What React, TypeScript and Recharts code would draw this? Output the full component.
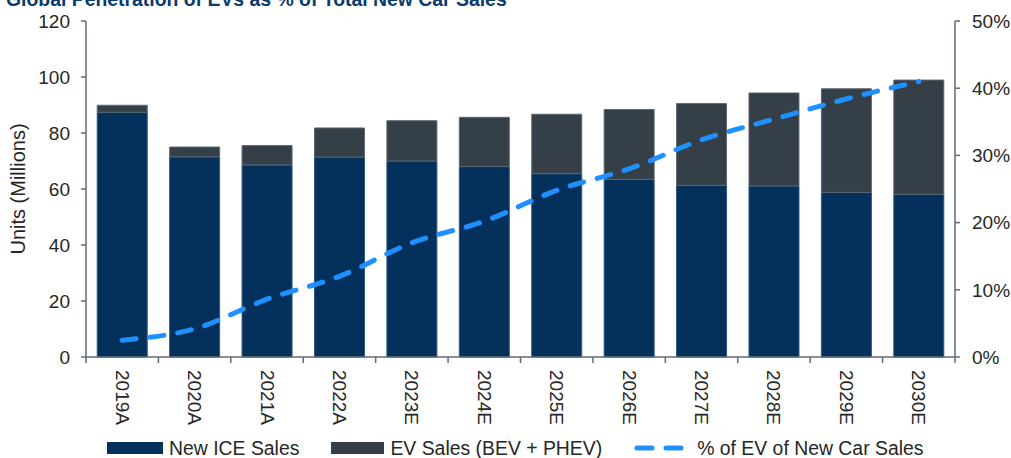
import React from "react";
import {
  ComposedChart,
  Bar,
  Line,
  XAxis,
  YAxis,
  Legend,
} from "recharts";

const YEARS = ["2019A", "2020A", "2021A", "2022A", "2023E", "2024E", "2025E", "2026E", "2027E", "2028E", "2029E", "2030E"];
const ICE_SALES = [87.4, 71.5, 68.6, 71.4, 70.0, 68.0, 65.5, 63.4, 61.3, 61.1, 58.8, 58.1];
const EV_SALES = [2.5, 3.5, 6.9, 10.4, 14.4, 17.6, 21.2, 25.0, 29.2, 33.2, 37.0, 40.8];
const EV_SHARE = [2.5, 4.2, 8.6, 12.0, 17.0, 20.2, 24.8, 28.0, 32.3, 35.4, 38.4, 41.0];

const UNIT_TICKS = [0, 20, 40, 60, 80, 100, 120];
const PCT_TICKS = [0, 10, 20, 30, 40, 50];

const W = 1011;
const H = 458;
const LEFT_W = 86;
const RIGHT_W = 56;
const PLOT_W = W - LEFT_W - RIGHT_W;

const NAVY = "#03315c";
const SLATE = "#353f48";
const BLUE = "#1e90ff";
const AXIS = "#5f6b76";
const TEXT = "#262626";
const FONT = '"Liberation Sans", Arial, sans-serif';

const LEGEND_ORDER = ["ice", "ev", "pct"];

const data = YEARS.map((year, i) => ({
  year,
  ice: ICE_SALES[i],
  ev: EV_SALES[i],
  pct: EV_SHARE[i],
}));

// Excel-style category axis: tick marks sit between the bars, labels run downwards
const YearTick = (props: any) => {
  const { x, y, payload, index } = props;
  const band = PLOT_W / YEARS.length;
  return (
    <g>
      <line x1={x - band / 2} y1={y} x2={x - band / 2} y2={y + 6} stroke={AXIS} strokeWidth={1.5} />
      {index === YEARS.length - 1 && (
        <line x1={x + band / 2} y1={y} x2={x + band / 2} y2={y + 6} stroke={AXIS} strokeWidth={1.5} />
      )}
      <text
        x={x}
        y={y + 13}
        transform={`rotate(90 ${x} ${y + 13})`}
        textAnchor="start"
        dominantBaseline="central"
        fontSize={19}
        fill={TEXT}
      >
        {payload.value}
      </text>
    </g>
  );
};

const SWATCH_W: Record<string, number> = { ice: 56, ev: 53, pct: 50 };

const LegendRow = ({ payload }: any) => {
  const items = [...(payload || [])].sort(
    (a: any, b: any) => LEGEND_ORDER.indexOf(a.dataKey) - LEGEND_ORDER.indexOf(b.dataKey)
  );
  return (
    <div style={{ height: 31, display: "flex", alignItems: "center", paddingLeft: 107, paddingTop: 11, boxSizing: "border-box" }}>
      {items.map((p: any) => (
        <div key={p.dataKey} style={{ display: "flex", alignItems: "center", marginRight: 32 }}>
          {p.dataKey === "pct" ? (
            <svg width={SWATCH_W.pct} height={12} style={{ marginRight: 13 }}>
              <line x1={3} y1={6} x2={47} y2={6} stroke={BLUE} strokeWidth={5} strokeDasharray="15 14" strokeLinecap="round" />
            </svg>
          ) : (
            <div style={{ width: SWATCH_W[p.dataKey], height: 12, background: p.color, marginRight: 6 }} />
          )}
          <span style={{ fontSize: 19.4, color: TEXT, lineHeight: "18px" }}>{p.value}</span>
        </div>
      ))}
    </div>
  );
};

export default function App() {
  return (
    <div style={{ position: "absolute", left: 0, top: 0, width: W, height: H, fontFamily: FONT, background: "#fff", overflow: "hidden" }}>
      <svg width={W} height={20} style={{ position: "absolute", left: 0, top: 0 }}>
        <text x={6} y={6} fontSize={19.4} fontWeight="bold" fill="#0a3b6e" fontFamily={FONT}>
          Global Penetration of EVs as % of Total New Car Sales
        </text>
      </svg>
      <ComposedChart
        width={W}
        height={H}
        data={data}
        margin={{ top: 21, right: 0, bottom: 0, left: 0 }}
        barCategoryGap="15.5%"
      >
        <XAxis
          dataKey="year"
          height={70}
          tickLine={false}
          tickSize={0}
          tickMargin={0}
          axisLine={{ stroke: AXIS, strokeWidth: 1.5 }}
          tick={<YearTick />}
          interval={0}
        />
        <YAxis
          yAxisId="left"
          width={LEFT_W}
          domain={[0, 120]}
          ticks={UNIT_TICKS}
          tickSize={5}
          tickMargin={11}
          axisLine={{ stroke: AXIS, strokeWidth: 1.5 }}
          tickLine={{ stroke: AXIS, strokeWidth: 1.5 }}
          tick={{ fontSize: 19, fill: TEXT }}
          label={{
            value: "Units (Millions)",
            angle: -90,
            position: "insideLeft",
            offset: 18,
            style: { textAnchor: "middle", fontSize: 20, fill: TEXT },
          }}
        />
        <YAxis
          yAxisId="right"
          orientation="right"
          width={RIGHT_W}
          domain={[0, 50]}
          ticks={PCT_TICKS}
          tickSize={5}
          tickMargin={12}
          axisLine={{ stroke: AXIS, strokeWidth: 1.5 }}
          tickLine={{ stroke: AXIS, strokeWidth: 1.5 }}
          tick={{ fontSize: 19, fill: TEXT }}
          tickFormatter={(v) => `${v}%`}
        />
        <Legend verticalAlign="bottom" content={<LegendRow />} />
        <Bar
          yAxisId="left"
          dataKey="ice"
          name="New ICE Sales"
          stackId="sales"
          fill={NAVY}
          stroke="#2d5a85"
          strokeWidth={1}
          isAnimationActive={false}
        />
        <Bar
          yAxisId="left"
          dataKey="ev"
          name="EV Sales (BEV + PHEV)"
          stackId="sales"
          fill={SLATE}
          stroke="#5d6873"
          strokeWidth={1}
          isAnimationActive={false}
        />
        <Line
          yAxisId="right"
          dataKey="pct"
          name="% of EV of New Car Sales"
          type="monotone"
          stroke={BLUE}
          strokeWidth={5}
          strokeDasharray="14 14"
          strokeLinecap="round"
          dot={false}
          legendType="line"
          isAnimationActive={false}
        />
      </ComposedChart>
    </div>
  );
}
